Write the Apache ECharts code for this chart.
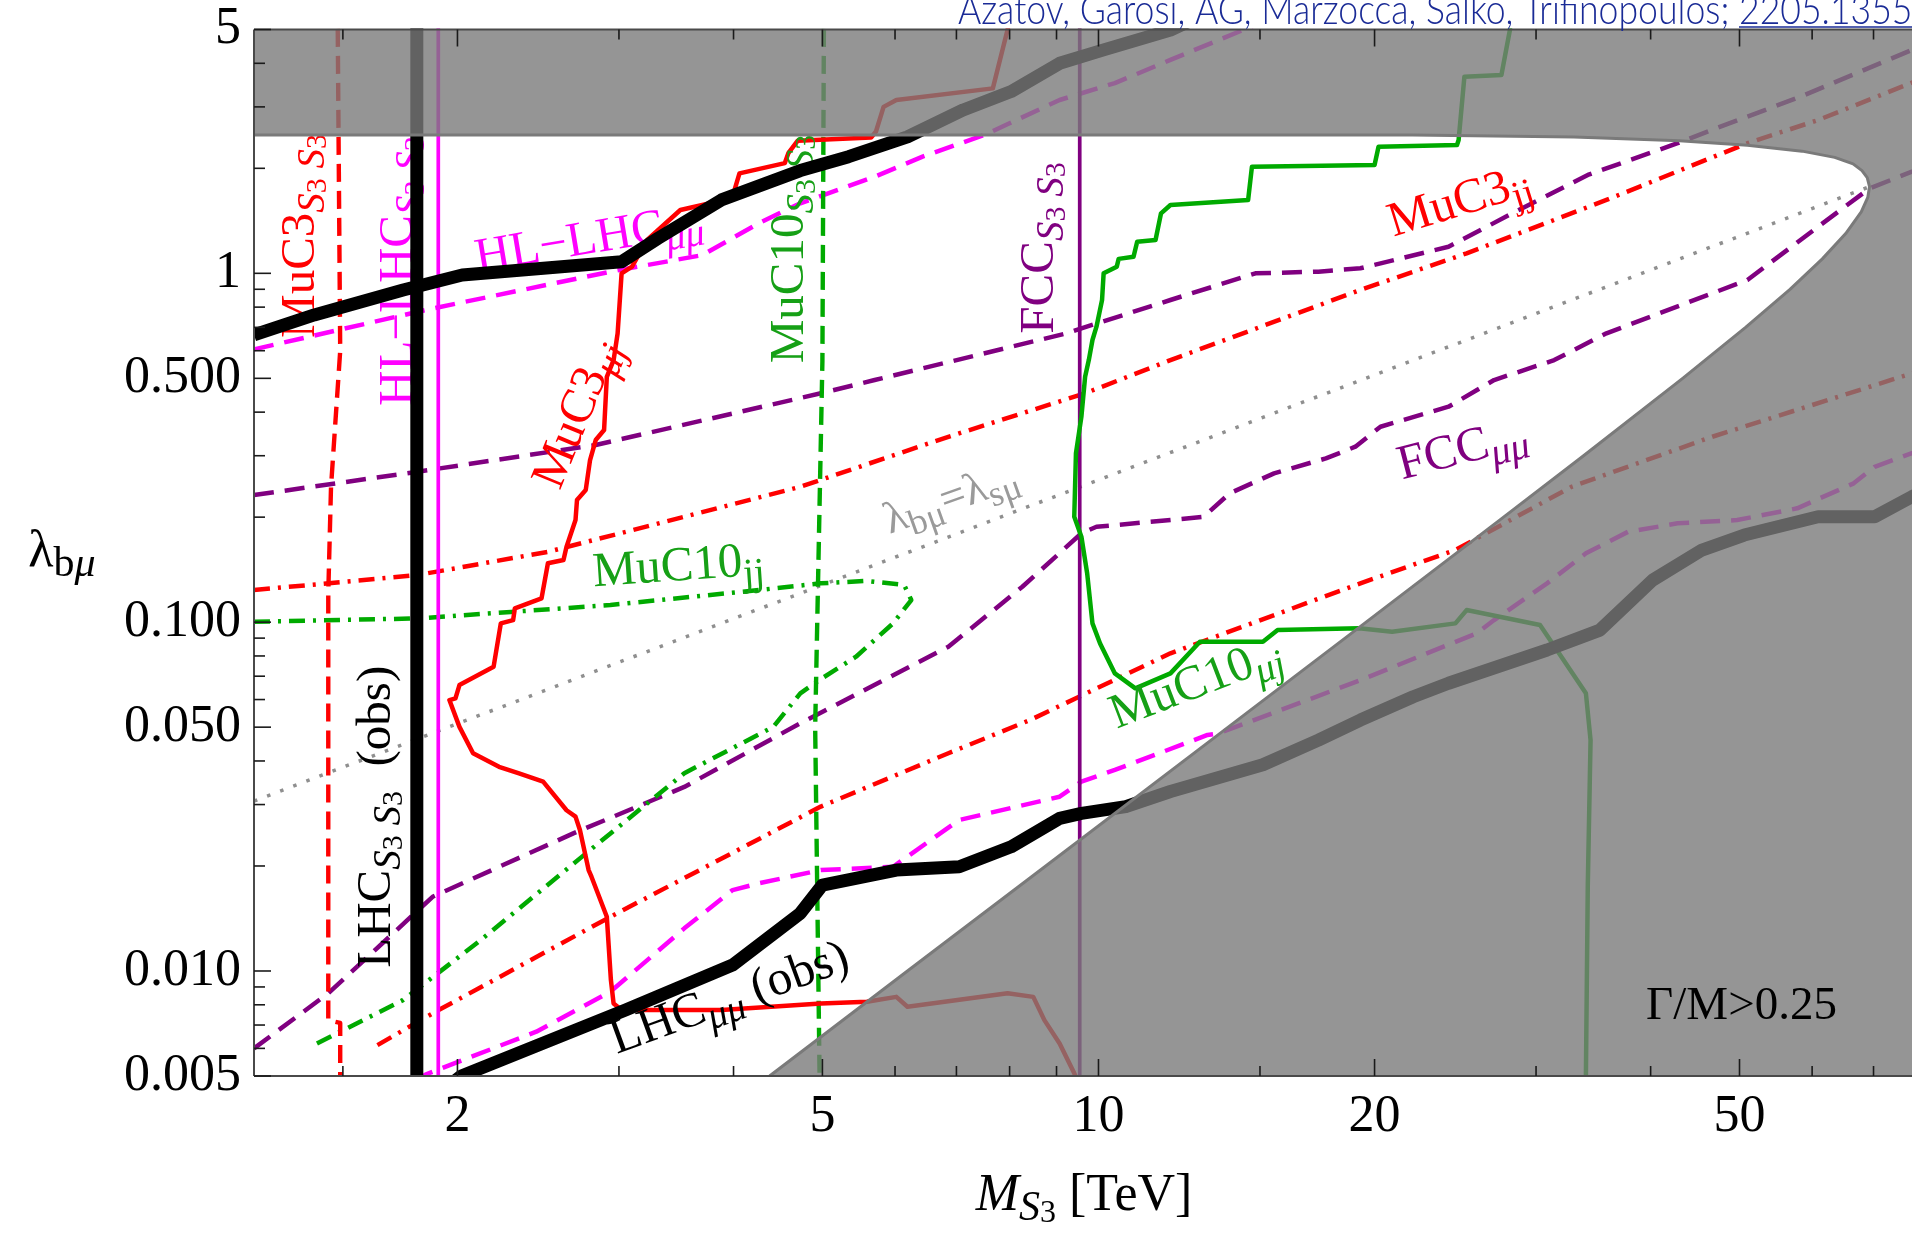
<!DOCTYPE html>
<html>
<head>
<meta charset="utf-8">
<title>λbμ versus M_S3</title>
<script src="https://cdn.jsdelivr.net/npm/echarts@6.0.0/dist/echarts.min.js"></script>
<style>
  html, body { margin: 0; padding: 0; background: #ffffff; }
  #chart { width: 1912px; height: 1233px; }
</style>
</head>
<body>
<div id="chart"></div>
<script>
// ---------- axes (the window shows M_S3 up to about 77 TeV) ----------
const xRange = [1.2, 77.1];
const yRange = [0.005, 5];
const xMajorTicks = [2, 5, 10, 20, 50];
const xTickLabels = ['2', '5', '10', '20', '50'];
const xMinorTicks = [1.5, 3, 4, 6, 7, 8, 9, 15, 30, 40, 60, 70];
const yMajorTicks = [5, 1, 0.5, 0.1, 0.05, 0.01, 0.005];
const yTickLabels = ['5', '1', '0.500', '0.100', '0.050', '0.010', '0.005'];
const yMinorTicks = [4, 3, 2, 0.9, 0.8, 0.7, 0.6, 0.4, 0.3, 0.2, 0.09, 0.08, 0.07, 0.06,
                     0.04, 0.03, 0.02, 0.009, 0.008, 0.007, 0.006];

// ---------- curves: [M_S3 (TeV), lambda_bmu] ----------
const lhcMuMuUpper = [[1.2,0.666],[1.396,0.76],[1.745,0.896],[2.024,0.989],[3.02,1.08],[3.31,1.26],
  [3.88,1.623],[4.73,1.97],[5.34,2.16],[6.19,2.46],[7.12,2.94],[8.03,3.32],[9.07,4.0],[10.13,4.37],
  [11.98,4.98],[12.6,5.3]];
const lhcMuMuLower = [[1.98,0.0048],[2.02,0.005],[3.05,0.00773],[3.99,0.0104],[4.73,0.01463],[5.0,0.01763],
  [6.02,0.01947],[7.05,0.0199],[8.03,0.0227],[9.07,0.0274],[9.58,0.0283],[10.71,0.0296],[11.98,0.0327],
  [15.11,0.039],[17.37,0.0459],[19.3,0.0524],[22.04,0.0611],[24.08,0.0668],[30.84,0.0832],[35.22,0.0949],
  [40.2,0.132],[45.5,0.161],[50.6,0.1777],[60.9,0.2005],[70.2,0.2005],[77.1,0.2289],[80,0.24]];
const lhcS3S3 = [[1.806,0.004],[1.806,6]];
const hlLhcS3S3 = [[1.906,0.004],[1.906,6]];
const fccS3S3 = [[9.54,0.004],[9.54,6]];
const hlLhcMuMuUpper = [[1.2,0.6055],[1.846,0.785],[2.936,1.011],[3.70,1.128],[4.26,1.391],[4.73,1.588],
  [5.70,1.892],[6.43,2.16],[7.53,2.5],[9.07,3.14],[10.42,3.51],[11.98,4.09],[14.42,5.0],[15.2,5.3]];
const hlLhcMuMuLower = [[1.80,0.0048],[1.846,0.00505],[2.438,0.0067],[2.936,0.00872],[3.535,0.01325],
  [3.99,0.01706],[4.26,0.01783],[4.98,0.01947],[5.97,0.0199],[7.05,0.0271],[9.07,0.0316],[9.58,0.0349],
  [10.42,0.0377],[13.15,0.0475],[13.52,0.048],[19.3,0.0682],[25.85,0.0929],[27.0,0.1014],[30.84,0.1292],
  [34.0,0.1575],[37.8,0.1816],[42.8,0.192],[49.7,0.1962],[57.8,0.212],[66.6,0.25],[70.2,0.2789],
  [77.1,0.305],[80,0.315]];
const muC3S3S3 = [[1.48,6],[1.49,0.6],[1.456,0.2444],[1.446,0.1212],[1.446,0.00723],[1.49,0.0071],[1.49,0.004]];
const muC10S3S3 = [[5.02,6],[5.0,0.56],[4.91,0.05],[4.97,0.004]];
const muC3MuJ = [[8.0,5.3],[7.96,5.0],[7.67,3.39],[6.02,3.14],[5.83,3.0],[5.72,2.55],[5.65,2.45],[4.7,2.40],
  [4.59,2.21],[4.55,2.07],[4.06,1.935],[3.99,1.658],[3.77,1.588],[3.50,1.519],[3.22,1.246],[3.10,1.045],
  [3.02,1.0],[2.99,0.673],[2.96,0.564],[2.91,0.505],[2.89,0.3554],[2.83,0.3327],[2.79,0.2916],[2.76,0.2392],
  [2.70,0.2239],[2.69,0.1962],[2.63,0.1645],[2.61,0.1507],[2.51,0.1475],[2.47,0.117],[2.31,0.1095],
  [2.30,0.1014],[2.23,0.0992],[2.19,0.0745],[2.01,0.066],[1.99,0.0605],[1.96,0.0598],[2.01,0.0501],
  [2.08,0.0421],[2.22,0.0385],[2.33,0.0369],[2.48,0.0349],[2.63,0.0289],[2.69,0.0277],[2.72,0.02535],
  [2.78,0.01947],[2.80,0.01863],[2.91,0.0143],[2.94,0.00942],[2.96,0.00807],[3.02,0.00773],[3.88,0.00773],
  [4.98,0.00807],[5.59,0.00816],[6.02,0.00843],[6.19,0.0079],[7.96,0.00863],[8.49,0.00843],[8.73,0.00723],
  [9.07,0.0062],[9.41,0.00509],[9.5,0.0048]];
const muC10MuJ = [[28.1,5.3],[28.1,5.0],[27.5,3.70],[25.06,3.66],[24.7,2.41],[24.6,2.333],[20.2,2.307],
  [20.0,2.045],[14.7,2.022],[14.56,1.623],[11.98,1.57],[11.7,1.486],[11.54,1.246],[11.02,1.232],
  [10.92,1.116],[10.52,1.1],[10.47,1.045],[10.13,1.0],[10.09,0.8386],[9.95,0.703],[9.85,0.644],[9.76,0.564],
  [9.67,0.505],[9.58,0.388],[9.45,0.305],[9.41,0.2005],[9.58,0.1758],[9.72,0.138],[9.85,0.0992],
  [10.04,0.0869],[10.42,0.0713],[10.97,0.0646],[11.98,0.0713],[12.9,0.0879],[15.11,0.0879],[15.68,0.0949],
  [19.24,0.096],[20.9,0.0939],[24.5,0.0992],[25.2,0.1083],[30.3,0.0981],[34.0,0.0625],[34.4,0.0459],
  [34.16,0.01744],[34.0,0.005],[34.0,0.0048]];
const fccMuMuUpper = [[1.2,0.2314],[1.81,0.27],[2.83,0.322],[4.98,0.453],[5.70,0.4944],[9.23,0.673],
  [9.58,0.6955],[11.98,0.8386],[14.83,1.0],[17.37,1.011],[19.3,1.034],[24.08,1.192],[28.73,1.519],
  [34.16,1.914],[42.8,2.36],[46.7,2.58],[58.3,3.21],[77.1,4.37],[80,4.5]];
const fccMuMuLower = [[1.2,0.006],[1.446,0.00863],[1.879,0.01632],[2.675,0.0248],[3.535,0.0337],
  [4.73,0.0513],[6.86,0.085],[8.26,0.1263],[9.58,0.1797],[9.95,0.1877],[11.98,0.1962],[13.02,0.2005],
  [13.9,0.234],[15.54,0.267],[17.7,0.2948],[19.06,0.3184],[20.3,0.3633],[24.08,0.4146],[27.0,0.4944],
  [31.4,0.564],[35.8,0.673],[51.0,0.957],[60.9,1.36],[69.3,1.752],[77.1,1.956],[80,2.0]];
const muC3jjUpper = [[1.2,0.1236],[1.81,0.1365],[2.51,0.1591],[3.535,0.2005],[4.73,0.2444],[6.86,0.34],
  [9.67,0.453],[11.98,0.564],[19.3,0.896],[25.2,1.141],[35.8,1.623],[51.0,2.36],[60.9,2.75],[77.1,3.52],
  [80,3.65]];
const muC3jjLower = [[1.636,0.00613],[1.879,0.00756],[2.936,0.0143],[4.98,0.0296],[6.86,0.0421],
  [8.42,0.0524],[11.98,0.0814],[19.3,0.1292],[24.5,0.161],[32.8,0.2444],[46.7,0.34],[77.1,0.5168],[80,0.53]];
const muC10jj = [[1.2,0.1003],[1.81,0.1025],[2.936,0.112],[4.26,0.1236],[4.98,0.1292],[5.59,0.1313],
  [6.14,0.1278],[6.25,0.1157],[5.97,0.0992],[5.44,0.0796],[4.96,0.0682],[4.73,0.0625],[4.42,0.0501],
  [3.535,0.0369],[2.76,0.0217],[2.126,0.01233],[1.744,0.00825],[1.385,0.00608]];
const lambdaEqual = [[1.2,0.0307],[69.3,1.771]];

// ---------- Γ/M > 0.25 region edge ----------
const widthEdgeLower = [[4.379,0.005],[6.19,0.01],[8.76,0.02],[13.85,0.05],[19.58,0.1],[27.65,0.2],
  [33.8,0.3],[43.35,0.5],[50.77,0.7],[56.76,0.9],[61.56,1.1],[65.28,1.3],[67.88,1.5],[69.0,1.65],[69.3,1.771]];
const widthEdgeUpper = [[69.3,1.771],[68.9,1.88],[68.0,1.97],[66.5,2.06],[63.5,2.15],[58.5,2.24],
  [51.0,2.33],[43.0,2.40],[33.0,2.46],[22.0,2.49],[1.2,2.49]];

// ---------- styling ----------
const SERIF = '"Liberation Serif", "Times New Roman", serif';
const RED = '#ff0000', MAGENTA = '#ff00ff', PURPLE = '#800080', GREEN = '#00aa00', GREEN_TXT = '#16a016';
const BLUE = '#1a2b96';
const W = 1912, H = 1233;

// plot rectangle in pixels
const PLOT = { left: 254, top: 29.5, width: W - 254, height: 1046.5 };

function makeRich(B) {
  const L = Math.round(B * 1.3);
  const sub = Math.round(B * 0.8), subsub = Math.round(B * 0.62);
  return {
    m:  { font: `${B}px ${SERIF}`, lineHeight: L, verticalAlign: 'middle' },
    mi: { font: `italic ${B}px ${SERIF}`, lineHeight: L, verticalAlign: 'middle' },
    s:  { font: `${sub}px ${SERIF}`, lineHeight: Math.round(B * 0.56), verticalAlign: 'bottom' },
    si: { font: `italic ${sub}px ${SERIF}`, lineHeight: Math.round(B * 0.56), verticalAlign: 'bottom' },
    ss: { font: `${subsub}px ${SERIF}`, lineHeight: Math.round(B * 0.2), verticalAlign: 'bottom' }
  };
}

const curveLabels = [
  { text: '{m|MuC3}{si|S}{ss|3}{si| S}{ss|3}', at: [1.352, 1.28], angle: 90, color: RED },
  { text: '{m|HL\u2212LHC}{si|S}{ss|3}{si| S}{ss|3}', at: [1.729, 1.015], angle: 90, color: MAGENTA },
  { text: '{m|MuC10}{si|S}{ss|3}{si| S}{ss|3}', at: [4.615, 1.174], angle: 90, color: GREEN_TXT },
  { text: '{m|FCC}{si|S}{ss|3}{si| S}{ss|3}', at: [8.645, 1.182], angle: 90, color: PURPLE },
  { text: '{m|HL\u2212LHC}{si|μμ}', at: [2.783, 1.242], angle: 9.5, color: MAGENTA },
  { text: '{m|MuC3}{si|μj}', at: [2.703, 0.395], angle: 67.7, color: RED },
  { text: '{m|MuC3}{s|jj}', at: [24.78, 1.594], angle: 17.3, color: RED },
  { text: '{m|MuC10}{s|jj}', at: [3.483, 0.1435], angle: 4, color: GREEN_TXT },
  { text: '{m|λ}{s|bμ}{m|=λ}{s|sμ}', at: [6.915, 0.2246], angle: 19.6, color: '#9a9a9a', size: 45 },
  { text: '{m|MuC10}{si|μj}', at: [12.78, 0.0663], angle: 21, color: GREEN_TXT },
  { text: '{m|FCC}{si|μμ}', at: [24.94, 0.3106], angle: 14.5, color: PURPLE },
  { text: '{m|LHC}{si|S}{ss|3}{si| S}{ss|3}{m|  (obs)}', at: [1.636, 0.02768], angle: 90, color: '#000' },
  { text: '{m|LHC}{si|μμ}{m| (obs)}', at: [3.963, 0.0083], angle: 20, color: '#000' }
];
const regionLabels = [
  { text: '{m|Γ/M>0.25}', at: [50.25, 0.0079], angle: 0, color: '#000', size: 47 }
];

function curve(name, data, color, width, dash, z) {
  return {
    name, type: 'line', data, z: z || 2, clip: true, silent: true, animation: false,
    showSymbol: false, symbol: 'none',
    lineStyle: { color, width, type: dash || 'solid', cap: 'butt', join: 'round' }
  };
}

function labelSeries(list, z) {
  return {
    type: 'custom', z, silent: true, animation: false, clip: false,
    data: list.map(l => l.at),
    renderItem(params, api) {
      const l = list[params.dataIndex];
      const p = api.coord(l.at);
      const B = l.size || 49;
      return {
        type: 'text', x: p[0], y: p[1], rotation: l.angle * Math.PI / 180,
        style: { text: l.text, rich: makeRich(B), fill: l.color, font: `${B}px ${SERIF}`,
                 align: 'center', verticalAlign: 'middle' }
      };
    }
  };
}

const DASH = [20, 11];
const DASH_V = [18, 9];
const DASH_DOT = [16, 8, 3, 8];
const DOTS = [3.5, 10.5];

const series = [
  curve('FCC μμ upper', fccMuMuUpper, PURPLE, 4.5, DASH),
  curve('FCC μμ lower', fccMuMuLower, PURPLE, 4.5, DASH),
  curve('MuC3 jj upper', muC3jjUpper, RED, 4.5, DASH_DOT),
  curve('MuC3 jj lower', muC3jjLower, RED, 4.5, DASH_DOT),
  curve('MuC10 jj', muC10jj, GREEN, 4.5, DASH_DOT),
  curve('λbμ = λsμ', lambdaEqual, '#8f8f8f', 3.5, DOTS),
  curve('HL-LHC μμ upper', hlLhcMuMuUpper, MAGENTA, 4.5, DASH),
  curve('HL-LHC μμ lower', hlLhcMuMuLower, MAGENTA, 4.5, DASH),
  curve('MuC3 S3S3', muC3S3S3, RED, 4.4, DASH_V),
  curve('MuC10 S3S3', muC10S3S3, GREEN, 4.4, DASH_V),
  curve('FCC S3S3', fccS3S3, PURPLE, 3.7),
  curve('HL-LHC S3S3', hlLhcS3S3, MAGENTA, 3.7),
  curve('MuC10 μj', muC10MuJ, GREEN, 4.5),
  curve('MuC3 μj', muC3MuJ, RED, 4.5),
  labelSeries(curveLabels, 3),
  curve('LHC μμ upper', lhcMuMuUpper, '#000', 13, 'solid', 4),
  curve('LHC μμ lower', lhcMuMuLower, '#000', 13, 'solid', 4),
  curve('LHC S3S3', lhcS3S3, '#000', 13, 'solid', 4),
  // shaded Γ/M > 0.25 region laid over the curves
  {
    type: 'custom', z: 5, silent: true, animation: false, clip: true,
    data: [[xRange[0], yRange[0]]],
    renderItem(params, api) {
      const outline = [[xRange[0], yRange[1]], [80, yRange[1]], [80, yRange[0]]]
        .concat(widthEdgeLower, widthEdgeUpper);
      return {
        type: 'polygon',
        shape: { points: outline.map(p => api.coord(p)) },
        style: { fill: 'rgba(122,122,122,0.8)' }
      };
    }
  },
  curve('Γ/M edge', widthEdgeLower.concat(widthEdgeUpper), '#7a7a7a', 3, 'solid', 6),
  labelSeries(regionLabels, 7),
  // frame (left, top, bottom), ticks and tick labels
  {
    type: 'custom', z: 9, silent: true, animation: false, clip: false,
    data: [[xRange[0], yRange[0]]],
    renderItem(params, api) {
      const [left, bottom] = api.coord([xRange[0], yRange[0]]);
      const [right, top] = api.coord([xRange[1], yRange[1]]);
      const frame = { stroke: '#4a4a4a', lineWidth: 2 };
      const kids = [
        { type: 'line', shape: { x1: left, y1: top, x2: right + 5, y2: top }, style: Object.assign({}, frame) },
        { type: 'line', shape: { x1: left, y1: bottom, x2: right + 5, y2: bottom }, style: Object.assign({}, frame) },
        { type: 'line', shape: { x1: left, y1: top, x2: left, y2: bottom }, style: Object.assign({}, frame) }
      ];
      const seg = (x1, y1, x2, y2) => ({ type: 'line', shape: { x1, y1, x2, y2 },
        style: { stroke: '#1a1a1a', lineWidth: 1.6 } });
      const addX = (v, len) => {
        const x = api.coord([v, yRange[0]])[0];
        kids.push(seg(x, bottom, x, bottom - len), seg(x, top, x, top + len));
      };
      const addY = (v, len) => {
        const y = api.coord([xRange[0], v])[1];
        kids.push(seg(left, y, left + len, y));
      };
      xMajorTicks.forEach(v => addX(v, 17));
      xMinorTicks.forEach(v => addX(v, 10));
      yMajorTicks.forEach(v => addY(v, 17));
      yMinorTicks.forEach(v => addY(v, 11));
      xMajorTicks.forEach((v, i) => {
        const x = api.coord([v, yRange[0]])[0];
        kids.push({ type: 'text', x, y: bottom + 41,
          style: { text: xTickLabels[i], font: `52px ${SERIF}`, fill: '#000', align: 'center', verticalAlign: 'middle' } });
      });
      yMajorTicks.forEach((v, i) => {
        const y = api.coord([xRange[0], v])[1];
        kids.push({ type: 'text', x: left - 13, y,
          style: { text: yTickLabels[i], font: `52px ${SERIF}`, fill: '#000', align: 'right', verticalAlign: 'middle' } });
      });
      return { type: 'group', children: kids };
    }
  }
];

// ---------- reference line at the top ----------
const creditsMain = 'Azatov, Garosi, AG, Marzocca, Salko, Trifinopoulos; ';
const creditsLink = '2205.13552';
const CREDIT_FONT = '300 42px Lato, "Open Sans", sans-serif';
const CREDIT_MAIN_WIDTH = 781;   // horizontal extent of the author list
const measure = document.createElement('canvas').getContext('2d');
measure.font = CREDIT_FONT;
const creditScale = CREDIT_MAIN_WIDTH / measure.measureText(creditsMain).width;
const creditsMainW = measure.measureText(creditsMain).width * creditScale;
const creditsLinkW = measure.measureText(creditsLink).width * creditScale;

const titleRich = makeRich(52);

// white margins hide stroke overhang of curves that run past the frame
const margins = [
  { x: 0, y: 0, width: W, height: PLOT.top - 1 },
  { x: 0, y: PLOT.top + PLOT.height + 1, width: W, height: H },
  { x: 0, y: 0, width: PLOT.left - 1, height: H }
].map(r => ({ type: 'rect', z: 8, silent: true, shape: r, style: { fill: '#ffffff' } }));

const option = {
  animation: false,
  backgroundColor: '#ffffff',
  grid: { left: PLOT.left, top: PLOT.top, width: PLOT.width, height: PLOT.height, show: false },
  xAxis: { type: 'log', logBase: 10, min: xRange[0], max: xRange[1],
    axisLine: { show: false }, axisTick: { show: false }, axisLabel: { show: false }, splitLine: { show: false } },
  yAxis: { type: 'log', logBase: 10, min: yRange[0], max: yRange[1],
    axisLine: { show: false }, axisTick: { show: false }, axisLabel: { show: false }, splitLine: { show: false } },
  graphic: margins.concat([
    { type: 'text', x: 958, y: 10.5, z: 20, scaleX: creditScale,
      style: { text: creditsMain + creditsLink, font: CREDIT_FONT, fill: BLUE, verticalAlign: 'middle' } },
    { type: 'line', z: 20, shape: { x1: 958 + creditsMainW, y1: 27, x2: 958 + creditsMainW + creditsLinkW, y2: 27 },
      style: { stroke: BLUE, lineWidth: 1.5 } },
    { type: 'text', x: 62, y: 552, z: 20,
      style: { text: '{m|λ}{s|b}{si|μ}', rich: makeRich(52), fill: '#000', font: `52px ${SERIF}`,
               align: 'center', verticalAlign: 'middle' } },
    { type: 'text', x: 1084, y: 1196, z: 20,
      style: { text: '{mi|M}{si|S}{ss|3}{m| [TeV]}', rich: titleRich, fill: '#000', font: `52px ${SERIF}`,
               align: 'center', verticalAlign: 'middle' } }
  ]),
  series
};

const chart = echarts.init(document.getElementById('chart'), null, { renderer: 'canvas', width: W, height: H });
chart.setOption(option);
</script>
</body>
</html>
